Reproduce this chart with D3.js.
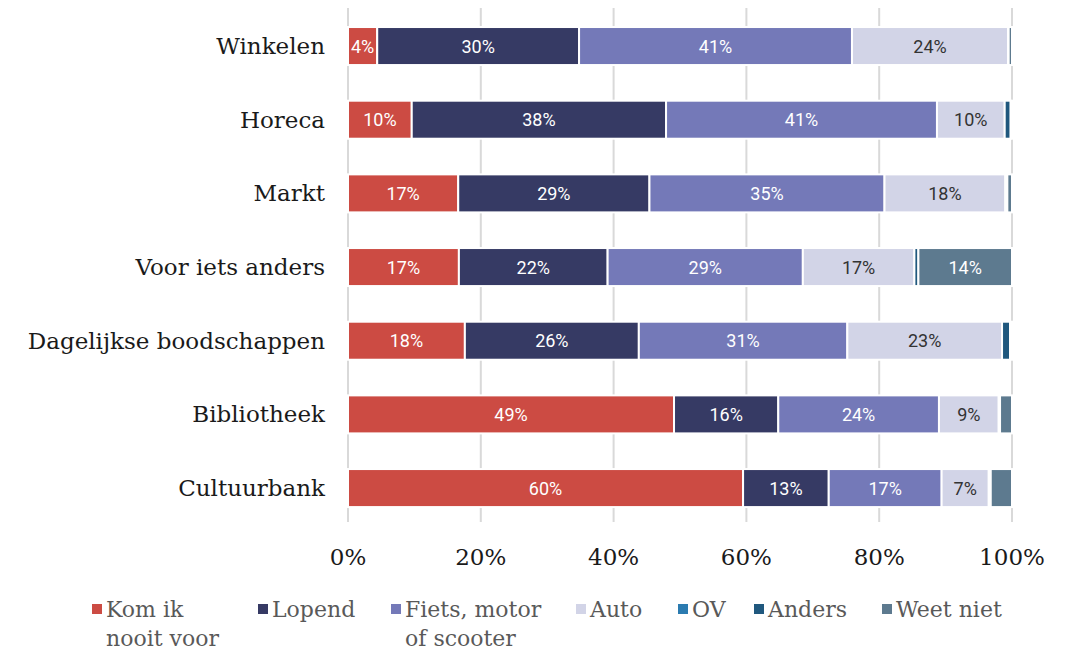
<!DOCTYPE html>
<html>
<head>
<meta charset="utf-8">
<script src="https://cdn.jsdelivr.net/npm/d3@7"></script>
<style>
  body { margin: 0; background: #fff; }
</style>
</head>
<body>
<svg id="chart" width="1069" height="651"></svg>
<script>
// categories (top to bottom)
var categories = ["Winkelen", "Horeca", "Markt", "Voor iets anders",
    "Dagelijkse boodschappen", "Bibliotheek", "Cultuurbank"];

// series, in stacking order
var seriesNames = ["Kom ik nooit voor", "Lopend", "Fiets, motor of scooter",
    "Auto", "OV", "Anders", "Weet niet"];

// shares in % per category, same order as categories
var komNooit  = [4.4, 9.6, 16.6, 16.7, 17.6, 49.1, 59.5];
var lopend    = [30.4, 38.3, 28.8, 22.4, 26.2, 15.7, 12.9];
var fiets     = [41.1, 40.8, 35.4, 29.4, 31.4, 24.2, 17.0];
var auto      = [23.5, 10.2, 18.2, 16.8, 23.3, 9.0, 7.1];
var ov        = [0.0, 0.0, 0.0, 0.0, 0.0, 0.0, 0.0];
var anders    = [0.1, 0.9, 0.3, 0.6, 1.2, 0.2, 0.3];
var weetNiet  = [0.5, 0.2, 0.7, 14.1, 0.3, 1.8, 3.2];

var xTicks = [0, 20, 40, 60, 80, 100];

var colors = ["#cc4b43", "#363a64", "#7479b8", "#d2d4e7", "#2b7bb0", "#20587e", "#5d7a8f"];
var labelColors = ["#fff", "#fff", "#fff", "#333", "#fff", "#fff", "#fff"];

var allSeries = [komNooit, lopend, fiets, auto, ov, anders, weetNiet];

var svg = d3.select("#chart");
var serif = "'DejaVu Serif', serif";

var x = d3.scaleLinear().domain([0, 100]).range([348, 1012]);
var y = d3.scaleBand().domain(categories).range([9.2, 524.9])
    .paddingInner(0.484).paddingOuter(0.242);

// gridlines
svg.append("g")
    .selectAll("line")
    .data(xTicks)
    .enter()
    .append("line")
    .attr("x1", function(d) { return x(d); })
    .attr("x2", function(d) { return x(d); })
    .attr("y1", 8)
    .attr("y2", 522)
    .attr("stroke", "#d9d9d9")
    .attr("stroke-width", 2);

// build stacked rows
var rows = categories.map(function(c, i) {
    var row = { cat: c };
    seriesNames.forEach(function(s, j) { row[s] = allSeries[j][i]; });
    return row;
});
var stack = d3.stack().keys(seriesNames)(rows);

var layers = svg.append("g")
    .selectAll("g")
    .data(stack)
    .enter()
    .append("g")
    .attr("fill", function(d, i) { return colors[i]; });

layers.selectAll("rect")
    .data(function(d) { return d; })
    .enter()
    .append("rect")
    .attr("x", function(d) { return x(d[0]); })
    .attr("y", function(d) { return y(d.data.cat); })
    .attr("width", function(d) { return Math.max(0, x(d[1]) - x(d[0])); })
    .attr("height", y.bandwidth())
    .attr("stroke", "#fff")
    .attr("stroke-width", 2);

// value labels
layers.each(function(layer, i) {
    d3.select(this).selectAll("text")
        .data(layer.filter(function(d) { return d[1] - d[0] >= 4; }))
        .enter()
        .append("text")
        .attr("x", function(d) { return (x(d[0]) + x(d[1])) / 2; })
        .attr("y", function(d) { return y(d.data.cat) + y.bandwidth() / 2; })
        .attr("dy", "0.36em")
        .attr("text-anchor", "middle")
        .attr("font-family", "Roboto, sans-serif")
        .attr("font-size", 18)
        .attr("fill", labelColors[i])
        .text(function(d) { return Math.round(d[1] - d[0]) + "%"; });
});

// category labels
svg.append("g")
    .selectAll("text")
    .data(categories)
    .enter()
    .append("text")
    .attr("x", 325)
    .attr("y", function(d) { return y(d) + y.bandwidth() / 2; })
    .attr("dy", "0.35em")
    .attr("text-anchor", "end")
    .attr("font-family", serif)
    .attr("font-size", 23)
    .attr("fill", "#1a1a1a")
    .text(function(d) { return d; });

// x axis labels
svg.append("g")
    .selectAll("text")
    .data(xTicks)
    .enter()
    .append("text")
    .attr("x", function(d) { return x(d); })
    .attr("y", 565)
    .attr("text-anchor", "middle")
    .attr("font-family", serif)
    .attr("font-size", 23)
    .attr("fill", "#1a1a1a")
    .text(function(d) { return d + "%"; });

// legend
var legendLines = [["Kom ik", "nooit voor"], ["Lopend"], ["Fiets, motor", "of scooter"],
    ["Auto"], ["OV"], ["Anders"], ["Weet niet"]];
var legendX = [92, 258, 391, 576, 678, 754, 882];

var legend = svg.append("g")
    .selectAll("g")
    .data(seriesNames)
    .enter()
    .append("g")
    .attr("transform", function(d, i) { return "translate(" + legendX[i] + ",609)"; });

legend.append("rect")
    .attr("x", 0)
    .attr("y", -5)
    .attr("width", 10)
    .attr("height", 10)
    .attr("fill", function(d, i) { return colors[i]; });

legend.append("text")
    .attr("x", 14)
    .attr("y", 0)
    .attr("font-family", serif)
    .attr("font-size", 22)
    .attr("fill", "#595959")
    .each(function(d, i) {
        var t = d3.select(this);
        legendLines[i].forEach(function(line, k) {
            t.append("tspan")
                .attr("x", 14)
                .attr("y", k * 29)
                .attr("dy", "0.36em")
                .text(line);
        });
    });
</script>
</body>
</html>
